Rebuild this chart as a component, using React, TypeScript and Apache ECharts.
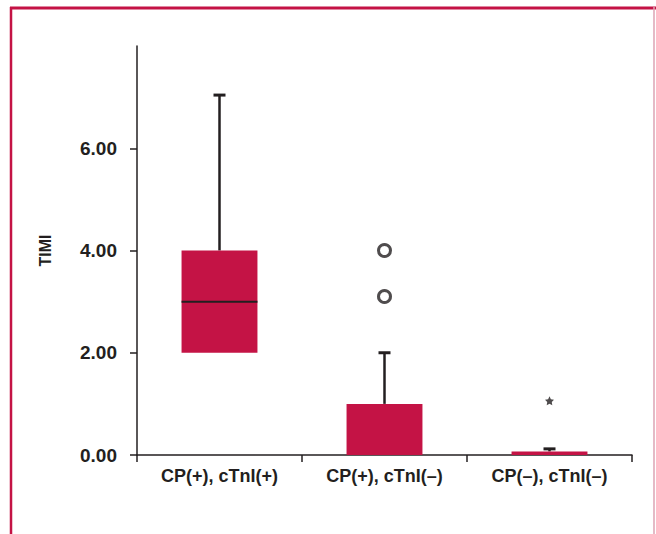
import React, { useEffect, useRef } from "react";
import * as echarts from "echarts";

const categories = ["CP(+), cTnI(+)", "CP(+), cTnI(–)", "CP(–), cTnI(–)"];
const whiskerLow = [2, 0, 0];
const q1 = [2, 0, 0];
const median = [3, 0, 0];
const q3 = [4, 1, 0.07];
const whiskerHigh = [7.04, 2, 0.12];
const outliers: [number, number][] = [
  [1, 4.0],
  [1, 3.1],
];
const extremes: [number, number][] = [[2, 1.06]];
const yTicks = [0, 2, 4, 6];

const RED = "#C41345";
const INK = "#231F20";

export default function App() {
  const ref = useRef<HTMLDivElement>(null);
  useEffect(() => {
    if (!ref.current) return;
    const chart = echarts.init(ref.current, undefined, { renderer: "svg" });
    const boxData = categories.map((_, i) => [i, whiskerLow[i], q1[i], median[i], q3[i], whiskerHigh[i]]);
    chart.setOption({
      animation: false,
      backgroundColor: "#ffffff",
      grid: { left: 137, right: 24, top: 46, bottom: 79 },
      xAxis: {
        type: "category",
        data: categories,
        boundaryGap: true,
        axisLine: { lineStyle: { color: INK, width: 1.5 } },
        axisTick: { show: true, alignWithLabel: false, length: 7, lineStyle: { color: INK, width: 1.5 } },
        axisLabel: {
          color: INK,
          fontWeight: "bold",
          fontSize: 18,
          fontFamily: "Liberation Sans, Arial, sans-serif",
          margin: 12,
        },
      },
      yAxis: {
        type: "value",
        min: 0,
        max: 8,
        interval: 2,
        name: "TIMI",
        nameLocation: "middle",
        nameRotate: 90,
        nameGap: 84,
        nameTextStyle: {
          color: INK,
          fontWeight: "bold",
          fontSize: 16,
          fontFamily: "Liberation Sans, Arial, sans-serif",
        },
        splitLine: { show: false },
        axisLine: { show: true, lineStyle: { color: INK, width: 1.5 } },
        axisTick: { show: true, length: 7, customValues: yTicks, lineStyle: { color: INK, width: 1.5 } },
        axisLabel: {
          customValues: yTicks,
          formatter: (v: number) => v.toFixed(2),
          color: INK,
          fontWeight: "bold",
          fontSize: 19,
          fontFamily: "Liberation Sans, Arial, sans-serif",
          margin: 20,
        },
      },
      graphic: [
        { type: "line", silent: true, shape: { x1: 10, y1: 8, x2: 656, y2: 8 }, style: { stroke: RED, lineWidth: 3 } },
        { type: "line", silent: true, shape: { x1: 11, y1: 7, x2: 11, y2: 534 }, style: { stroke: RED, lineWidth: 2.5 } },
        { type: "line", silent: true, shape: { x1: 654, y1: 7, x2: 654, y2: 534 }, style: { stroke: "#DDA3B3", lineWidth: 1.5 } },
      ],
      series: [
        {
          type: "custom",
          data: boxData,
          encode: { x: 0, y: [1, 2, 3, 4, 5] },
          renderItem: (params: any, api: any) => {
            const i = api.value(0);
            const lo = api.value(1);
            const b1 = api.value(2);
            const med = api.value(3);
            const b3 = api.value(4);
            const hi = api.value(5);
            const w = api.size([1, 0])[0] * 0.46;
            const cap = 12;
            const pLo = api.coord([i, lo]);
            const p1 = api.coord([i, b1]);
            const pm = api.coord([i, med]);
            const p3 = api.coord([i, b3]);
            const pHi = api.coord([i, hi]);
            const cx = p1[0];
            const children: any[] = [];
            if (hi > b3) {
              children.push({
                type: "line",
                shape: { x1: cx, y1: p3[1], x2: cx, y2: pHi[1] },
                style: { stroke: INK, lineWidth: 2.5 },
              });
              children.push({
                type: "line",
                shape: { x1: cx - cap / 2, y1: pHi[1], x2: cx + cap / 2, y2: pHi[1] },
                style: { stroke: INK, lineWidth: 3 },
              });
            }
            if (lo < b1) {
              children.push({
                type: "line",
                shape: { x1: cx, y1: p1[1], x2: cx, y2: pLo[1] },
                style: { stroke: INK, lineWidth: 2.5 },
              });
              children.push({
                type: "line",
                shape: { x1: cx - cap / 2, y1: pLo[1], x2: cx + cap / 2, y2: pLo[1] },
                style: { stroke: INK, lineWidth: 3 },
              });
            }
            children.push({
              type: "rect",
              shape: { x: cx - w / 2, y: p3[1], width: w, height: p1[1] - p3[1] },
              style: { fill: RED },
            });
            if (med > b1) {
              children.push({
                type: "line",
                shape: { x1: cx - w / 2, y1: pm[1], x2: cx + w / 2, y2: pm[1] },
                style: { stroke: INK, lineWidth: 2 },
              });
            }
            return { type: "group", children };
          },
          z: 3,
        },
        {
          type: "scatter",
          data: outliers,
          symbol: "circle",
          symbolSize: 12,
          itemStyle: { color: "#ffffff", borderColor: INK, borderWidth: 3 },
          z: 4,
        },
        {
          type: "scatter",
          data: extremes,
          symbol:
            "path://M0,-10 L2.9,-4 9.5,-3.1 4.8,1.5 5.9,8.1 0,5 -5.9,8.1 -4.8,1.5 -9.5,-3.1 -2.9,-4 Z",
          symbolSize: 9,
          itemStyle: { color: INK },
          z: 4,
        },
      ],
    });
    return () => chart.dispose();
  }, []);
  return (
    <div
      ref={ref}
      style={{ position: "absolute", left: 0, top: 0, width: 656, height: 534, background: "#fff" }}
    />
  );
}
